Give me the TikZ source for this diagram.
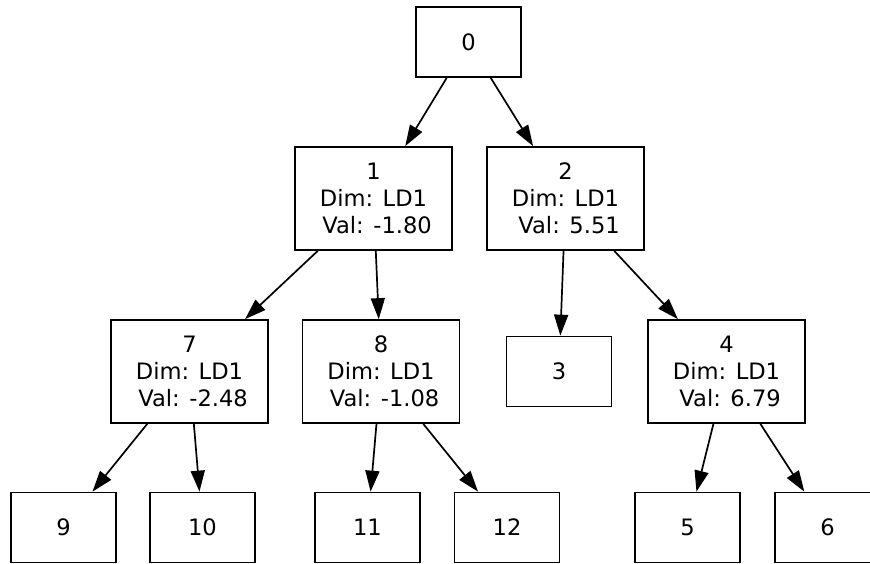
\documentclass[tikz,border=0pt]{standalone}
\usepackage{fontspec}
\setmainfont{DejaVu Sans}
\usetikzlibrary{arrows.meta}
\begin{document}
\begin{tikzpicture}[x=1pt,y=-1pt,
  leaf/.style={draw, line width=1.7pt, minimum width=105pt, minimum height=70pt, inner sep=0pt, font=\fontsize{22.6}{27.2}\selectfont},
  split/.style={leaf, minimum width=157pt, minimum height=103pt, align=center},
  edge/.style={line width=1.7pt, -{Triangle[length=21pt,width=14pt]}}]
\useasboundingbox (0,0) rectangle (870,563);
\node[leaf] (n0) at (468.5,42) {0};
\node[split] (n1) at (373.5,198.5) {1\\Dim: LD1\\\hspace*{0.318em}Val: -1.80};
\node[split] (n2) at (565.5,198.5) {2\\Dim: LD1\\\hspace*{0.318em}Val: 5.51};
\node[split] (n7) at (189.5,371.5) {7\\Dim: LD1\\\hspace*{0.318em}Val: -2.48};
\node[split] (n8) at (381,371.5) {8\\Dim: LD1\\\hspace*{0.318em}Val: -1.08};
\node[leaf] (n3) at (559,371.5) {3};
\node[split] (n4) at (726.5,371.5) {4\\Dim: LD1\\\hspace*{0.318em}Val: 6.79};
\node[leaf] (n9) at (63.5,527.5) {9};
\node[leaf] (n10) at (202.5,527.5) {10};
\node[leaf] (n11) at (367.5,527.5) {11};
\node[leaf] (n12) at (507,527.5) {12};
\node[leaf] (n5) at (687.5,527.5) {5};
\node[leaf] (n6) at (827.5,527.5) {6};
\draw[edge] (n0) -- (n1);
\draw[edge] (n0) -- (n2);
\draw[edge] (n1) -- (n7);
\draw[edge] (n1) -- (n8);
\draw[edge] (n2) -- (n3);
\draw[edge] (n2) -- (n4);
\draw[edge] (n7) -- (n9);
\draw[edge] (n7) -- (n10);
\draw[edge] (n8) -- (n11);
\draw[edge] (n8) -- (n12);
\draw[edge] (n4) -- (n5);
\draw[edge] (n4) -- (n6);
\end{tikzpicture}
\end{document}
